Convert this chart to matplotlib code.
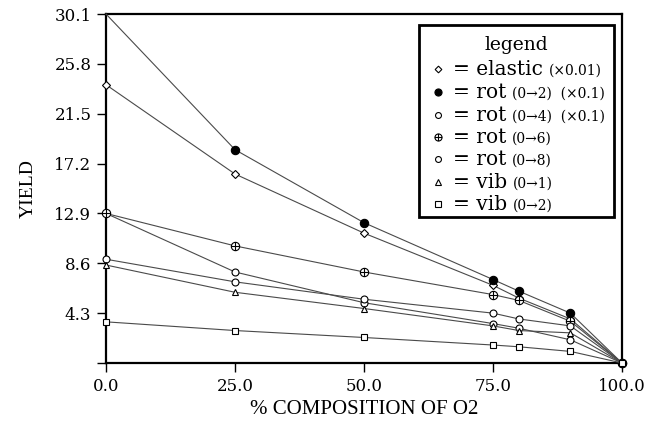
import matplotlib
matplotlib.use("Agg")
import matplotlib.pyplot as plt
from matplotlib.path import Path
from matplotlib.lines import Line2D
from matplotlib.patches import Rectangle
from matplotlib.transforms import Affine2D

# ---- data -------------------------------------------------------------
composition = [0, 25, 50, 75, 80, 90, 100]
elastic = [24.0, 16.3, 11.2, 6.7, 5.6, 3.8, 0.0]      # x0.01
rot_0_2 = [30.1, 18.4, 12.1, 7.2, 6.2, 4.3, 0.0]      # x0.1
rot_0_4 = [12.9, 7.85, 5.2, 3.4, 3.0, 2.0, 0.0]       # x0.1
rot_0_6 = [12.9, 10.1, 7.85, 5.9, 5.4, 3.6, 0.0]
rot_0_8 = [8.95, 7.0, 5.5, 4.3, 3.8, 3.2, 0.0]
vib_0_1 = [8.45, 6.1, 4.7, 3.2, 2.8, 2.6, 0.0]
vib_0_2 = [3.55, 2.8, 2.2, 1.55, 1.4, 1.0, 0.0]

x_ticks = [0, 25, 50, 75, 100]
x_tick_labels = ["0.0", "25.0", "50.0", "75.0", "100.0"]
y_ticks = [0, 4.3, 8.6, 12.9, 17.2, 21.5, 25.8, 30.1]
y_tick_labels = ["", "4.3", "8.6", "12.9", "17.2", "21.5", "25.8", "30.1"]

legend_names = ["= elastic", "= rot", "= rot", "= rot", "= rot", "= vib", "= vib"]
legend_notes = ["(\u00d70.01)", "(0\u21922)  (\u00d70.1)", "(0\u21924)  (\u00d70.1)",
                "(0\u21926)", "(0\u21928)", "(0\u21921)", "(0\u21922)"]

# ---- marker styles ----------------------------------------------------
circle = Path.unit_circle()
cross = Path([[-1, 0], [1, 0], [0, -1], [0, 1]],
             [Path.MOVETO, Path.LINETO, Path.MOVETO, Path.LINETO])
crossed_circle = Path.make_compound_path(circle, cross)

styles = [
    dict(marker="D", ms=4.0, mfc="white"),
    dict(marker="o", ms=6.0, mfc="black"),
    dict(marker="o", ms=5.0, mfc="white"),
    dict(marker=crossed_circle, ms=6.0, mfc="white"),
    dict(marker="o", ms=5.0, mfc="white"),
    dict(marker="^", ms=5.0, mfc="white"),
    dict(marker="s", ms=4.6, mfc="white"),
]
series = [elastic, rot_0_2, rot_0_4, rot_0_6, rot_0_8, vib_0_1, vib_0_2]

serif = ["DejaVu Serif", "DejaVu Sans"]
times = ["Liberation Serif", "DejaVu Serif"]

fig = plt.figure(figsize=(6.55, 4.21), dpi=100)
ax = fig.add_axes([106 / 655, 1 - 363 / 421, 516 / 655, 349 / 421])

for i, (ys, st) in enumerate(zip(series, styles)):
    every = slice(1, None) if i == 1 else None
    ax.plot(composition, ys, color="#4a4a4a", lw=0.8,
            marker=st["marker"], ms=st["ms"], mfc=st["mfc"], mec="black",
            mew=0.8, clip_on=False, markevery=every, zorder=3)

ax.set_xlim(0, 100)
ax.set_ylim(0, 30.1)
ax.set_xticks(x_ticks)
ax.set_xticklabels(x_tick_labels, fontfamily=serif, fontsize=12)
ax.set_yticks(y_ticks)
ax.set_yticklabels(y_tick_labels, fontfamily=serif, fontsize=12)
ax.tick_params(direction="out", length=6.5, width=1.0, pad=4, colors="black")
for sp in ax.spines.values():
    sp.set_linewidth(1.6)
    sp.set_color("black")

ax.set_xlabel("% COMPOSITION OF O2", fontfamily=times, fontsize=15)
ax.xaxis.set_label_coords(0.5, -0.105)
ax.set_ylabel("YIELD", fontfamily=times, fontsize=14)
ax.yaxis.set_label_coords(-0.135, 0.5)

# ---- boxed legend (laid out in pixel units from the top-left corner) ----
px = Affine2D().scale(1 / 655, -1 / 421).translate(0, 1) + fig.transFigure

frame = Rectangle((419, 25), 195, 192, transform=px, facecolor="white",
                  edgecolor="black", lw=2.0, zorder=5, clip_on=False)
ax.add_patch(frame)
ax.text(516, 50, "legend", transform=px, ha="center", va="baseline",
        fontfamily=serif, fontsize=13.5, zorder=6, clip_on=False)

row_centres = [69, 92, 115, 137, 159, 182, 204]
for yc, st, name, note in zip(row_centres, styles, legend_names, legend_notes):
    key = Line2D([438], [yc], transform=px, linestyle="none",
                 marker=st["marker"], ms=st["ms"] * 0.85, mfc=st["mfc"],
                 mec="black", mew=0.8, zorder=6, clip_on=False)
    ax.add_line(key)
    t = ax.text(453, yc + 6, name, transform=px, ha="left", va="baseline",
                fontfamily=serif, fontsize=14.5, zorder=6, clip_on=False)
    ax.annotate(note, xy=(1, 0), xycoords=t, xytext=(4, 3.0),
                textcoords="offset points", ha="left", va="baseline",
                fontfamily=serif, fontsize=10, zorder=6,
                annotation_clip=False)

fig.savefig("out.png", dpi=100)
